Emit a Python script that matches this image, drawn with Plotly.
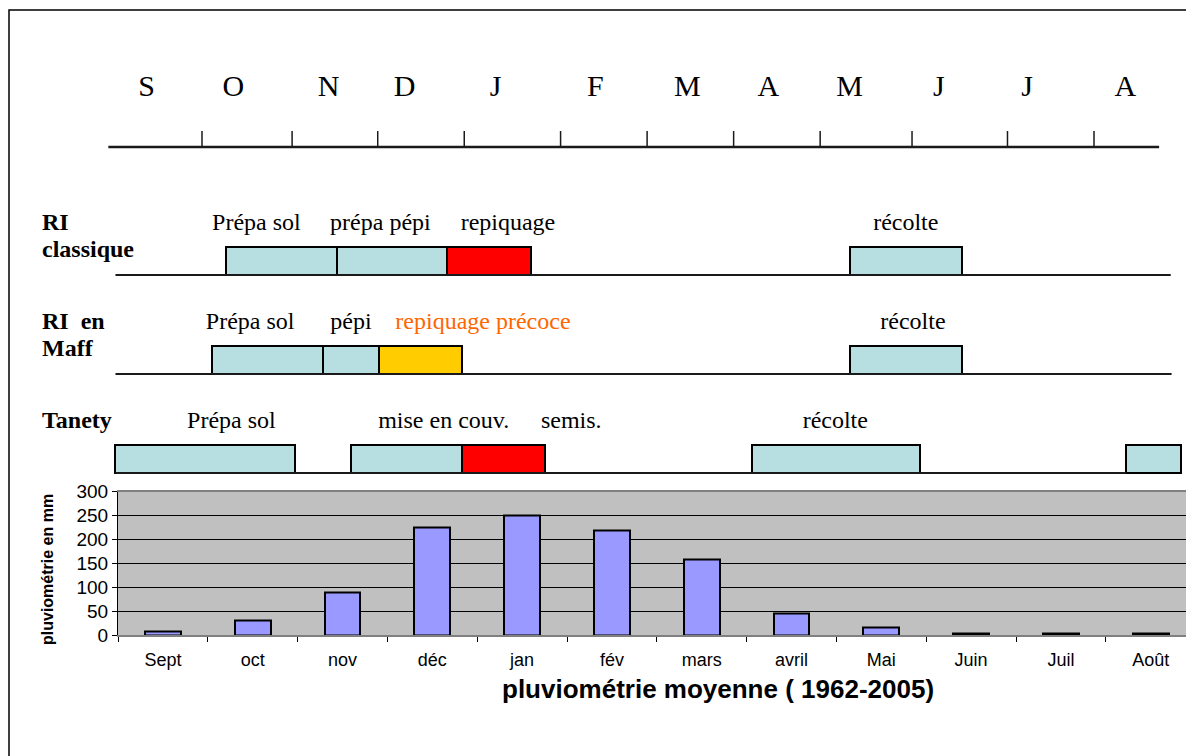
import plotly.graph_objects as go

W, H = 1186, 756

# ---------------- data: rainfall chart ----------------
months_fr = ["Sept", "oct", "nov", "déc", "jan", "fév", "mars", "avril", "Mai", "Juin", "Juil", "Août"]
rain_mm = [7, 31, 89, 225, 250, 218, 157, 45, 15, 3, 3, 3]
rain_ticks = [0, 50, 100, 150, 200, 250, 300]

# ---------------- data: crop calendar (month units, 0 = start of September) ----------------
cal_letters = ["S", "O", "N", "D", "J", "F", "M", "A", "M", "J", "J", "A"]
cal_letter_pos = [0.38, 1.35, 2.42, 3.27, 4.29, 5.41, 6.44, 7.35, 8.26, 9.26, 10.25, 11.35]
cal_ticks = [1.00, 2.01, 2.97, 3.94, 5.02, 5.99, 6.96, 7.93, 8.96, 10.03, 11.00]
cal_span = [-0.05, 11.73]

row_names = [["RI", "classique"], ["RI\u00a0 en", "Maff"], ["Tanety"]]
row_line_start = [0.03, 0.03, 0.03]
row_line_end = [11.86, 11.87, 11.36]

task_row = [0, 0, 0, 0, 1, 1, 1, 1, 2, 2, 2, 2, 2]
task_start = [1.27, 2.51, 3.75, 8.26, 1.11, 2.36, 2.98, 8.26, 0.03, 2.67, 3.91, 7.17, 11.36]
task_end = [2.51, 3.75, 4.69, 9.52, 2.36, 2.98, 3.91, 9.52, 2.04, 3.91, 4.85, 9.05, 11.98]
task_type = ["prep", "prep", "repiquage", "recolte",
             "prep", "prep", "repiquage_precoce", "recolte",
             "prep", "prep", "semis", "recolte", "prep"]

label_text = ["Prépa sol", "prépa pépi", "repiquage", "récolte",
              "Prépa sol", "pépi", "repiquage précoce", "récolte",
              "Prépa sol", "mise en couv.", "semis.", "récolte"]
label_row = [0, 0, 0, 0, 1, 1, 1, 1, 2, 2, 2, 2]
label_pos = [1.61, 3.00, 4.43, 8.89, 1.54, 2.67, 4.15, 8.97, 1.33, 3.71, 5.14, 8.10]

# ---------------- styling / layout helpers ----------------
SERIF = "Liberation Serif, Times New Roman, serif"
SANS = "Liberation Sans, Arial, sans-serif"
LIGHT = "#B7DEE1"
type_color = {"prep": LIGHT, "recolte": LIGHT, "repiquage": "#FF0000",
              "semis": "#FF0000", "repiquage_precoce": "#FFCC00"}

# top diagram axes: pixel mapping
PX0, PXM = 112.8, 89.2        # x pixel of month 0, pixels per month
BASE0, PXL = 473.0, 99.0      # y pixel of bottom row baseline, pixels per row level
TOP_BOTTOM_PX = 480.0
x2_range = [(0 - PX0) / PXM, (W - PX0) / PXM]
y2_range = [(BASE0 - TOP_BOTTOM_PX) / PXL, BASE0 / PXL]
y2_domain = [1 - TOP_BOTTOM_PX / H, 1.0]


def level(px):
    return (BASE0 - px) / PXL


def row_level(r):
    return 2 - r


BOX_H = 0.28
LABEL_DY = 0.52
header_line_lvl = level(147)
header_tick_top = level(131)
letters_lvl = level(88)

fig = go.Figure()

# row baselines
for r in range(3):
    fig.add_trace(go.Scatter(
        x=[row_line_start[r], row_line_end[r]], y=[row_level(r), row_level(r)],
        mode="lines", line=dict(color="#1a1a1a", width=2),
        xaxis="x2", yaxis="y2", hoverinfo="skip"))

# header timeline
fig.add_trace(go.Scatter(
    x=cal_span, y=[header_line_lvl, header_line_lvl], mode="lines",
    line=dict(color="#1a1a1a", width=2.5), xaxis="x2", yaxis="y2", hoverinfo="skip"))
tx, ty = [], []
for t in cal_ticks:
    tx += [t, t, None]
    ty += [header_line_lvl, header_tick_top, None]
fig.add_trace(go.Scatter(
    x=tx, y=ty, mode="lines", line=dict(color="#1a1a1a", width=1.5),
    xaxis="x2", yaxis="y2", hoverinfo="skip"))
fig.add_trace(go.Scatter(
    x=cal_letter_pos, y=[letters_lvl] * len(cal_letters), mode="text",
    text=cal_letters, textposition="middle center",
    textfont=dict(family=SERIF, size=30, color="black"),
    xaxis="x2", yaxis="y2", hoverinfo="skip"))

# activity boxes
fig.add_trace(go.Bar(
    orientation="h",
    y=[row_level(r) for r in task_row],
    base=task_start,
    x=[e - s for s, e in zip(task_start, task_end)],
    width=BOX_H, offset=0,
    marker=dict(color=[type_color[t] for t in task_type], line=dict(color="black", width=2)),
    xaxis="x2", yaxis="y2", hoverinfo="skip"))

# activity labels
fig.add_trace(go.Scatter(
    x=label_pos, y=[row_level(r) + LABEL_DY for r in label_row], mode="text",
    text=label_text, textposition="middle center",
    textfont=dict(family=SERIF, size=24,
                  color=["#FF6600" if t == "repiquage précoce" else "black" for t in label_text]),
    xaxis="x2", yaxis="y2", hoverinfo="skip"))

# row names
nx, ny, nt = [], [], []
for r, lines in enumerate(row_names):
    for i, s in enumerate(lines):
        nx.append((42 - PX0) / PXM)
        ny.append(row_level(r) + LABEL_DY - i * 0.28)
        nt.append("<b>" + s + "</b>")
fig.add_trace(go.Scatter(
    x=nx, y=ny, mode="text", text=nt, textposition="middle right",
    textfont=dict(family=SERIF, size=24, color="black"),
    xaxis="x2", yaxis="y2", hoverinfo="skip"))

# rainfall bars
fig.add_trace(go.Bar(
    x=months_fr, y=rain_mm, width=0.4,
    marker=dict(color="#9999FF", line=dict(color="black", width=2)),
    xaxis="x", yaxis="y", hoverinfo="skip"))

PLOT_L, PLOT_TOP, PLOT_BOT = 118.0, 491.5, 635.0
PX_CAT = 89.8
x_range = [-0.5, -0.5 + (W - PLOT_L) / PX_CAT]

fig.update_layout(
    template="none",
    width=W, height=H,
    margin=dict(l=0, r=0, t=0, b=0, pad=0, autoexpand=False),
    paper_bgcolor="white", plot_bgcolor="rgba(0,0,0,0)",
    showlegend=False, bargap=0,
    xaxis=dict(domain=[PLOT_L / W, 1.0], type="category", range=x_range,
               showline=True, linecolor="#808080", linewidth=1.5, mirror=True,
               ticks="outside", tickson="boundaries", ticklen=5, tickcolor="black",
               ticklabelstandoff=8,
               tickfont=dict(family=SANS, size=18, color="black"),
               showgrid=False, zeroline=False, anchor="y", fixedrange=True, automargin=False),
    yaxis=dict(domain=[1 - PLOT_BOT / H, 1 - PLOT_TOP / H], range=[0, 300],
               tickvals=rain_ticks, showgrid=True, gridcolor="black", gridwidth=1,
               showline=True, linecolor="black", linewidth=1,
               ticks="outside", ticklen=5, tickcolor="black",
               tickfont=dict(family=SANS, size=19, color="black"),
               zeroline=False, anchor="x", fixedrange=True, automargin=False),
    xaxis2=dict(domain=[0, 1], range=x2_range, visible=False, anchor="y2",
                fixedrange=True, automargin=False),
    yaxis2=dict(domain=y2_domain, range=y2_range, visible=False, anchor="x2",
                fixedrange=True, automargin=False),
    shapes=[
        dict(type="rect", xref="x domain", yref="y domain", x0=0, x1=1.02, y0=0, y1=1,
             fillcolor="#C0C0C0", line=dict(width=0), layer="below"),
        dict(type="rect", xref="paper", yref="paper", x0=9 / W, x1=1.02, y0=-0.02, y1=1 - 10 / H,
             fillcolor="rgba(0,0,0,0)", line=dict(color="black", width=1.5), layer="below"),
    ],
    annotations=[
        dict(text="<b>pluviométrie en mm</b>", xref="paper", yref="paper",
             x=47 / W, y=1 - 570 / H, textangle=-90, showarrow=False,
             xanchor="center", yanchor="middle",
             font=dict(family=SANS, size=16, color="black")),
        dict(text="<b>pluviométrie moyenne ( 1962-2005)</b>", xref="paper", yref="paper",
             x=718 / W, y=1 - 689 / H, showarrow=False, xanchor="center", yanchor="middle",
             font=dict(family=SANS, size=26, color="black")),
    ],
)

fig.write_html("out.html")
